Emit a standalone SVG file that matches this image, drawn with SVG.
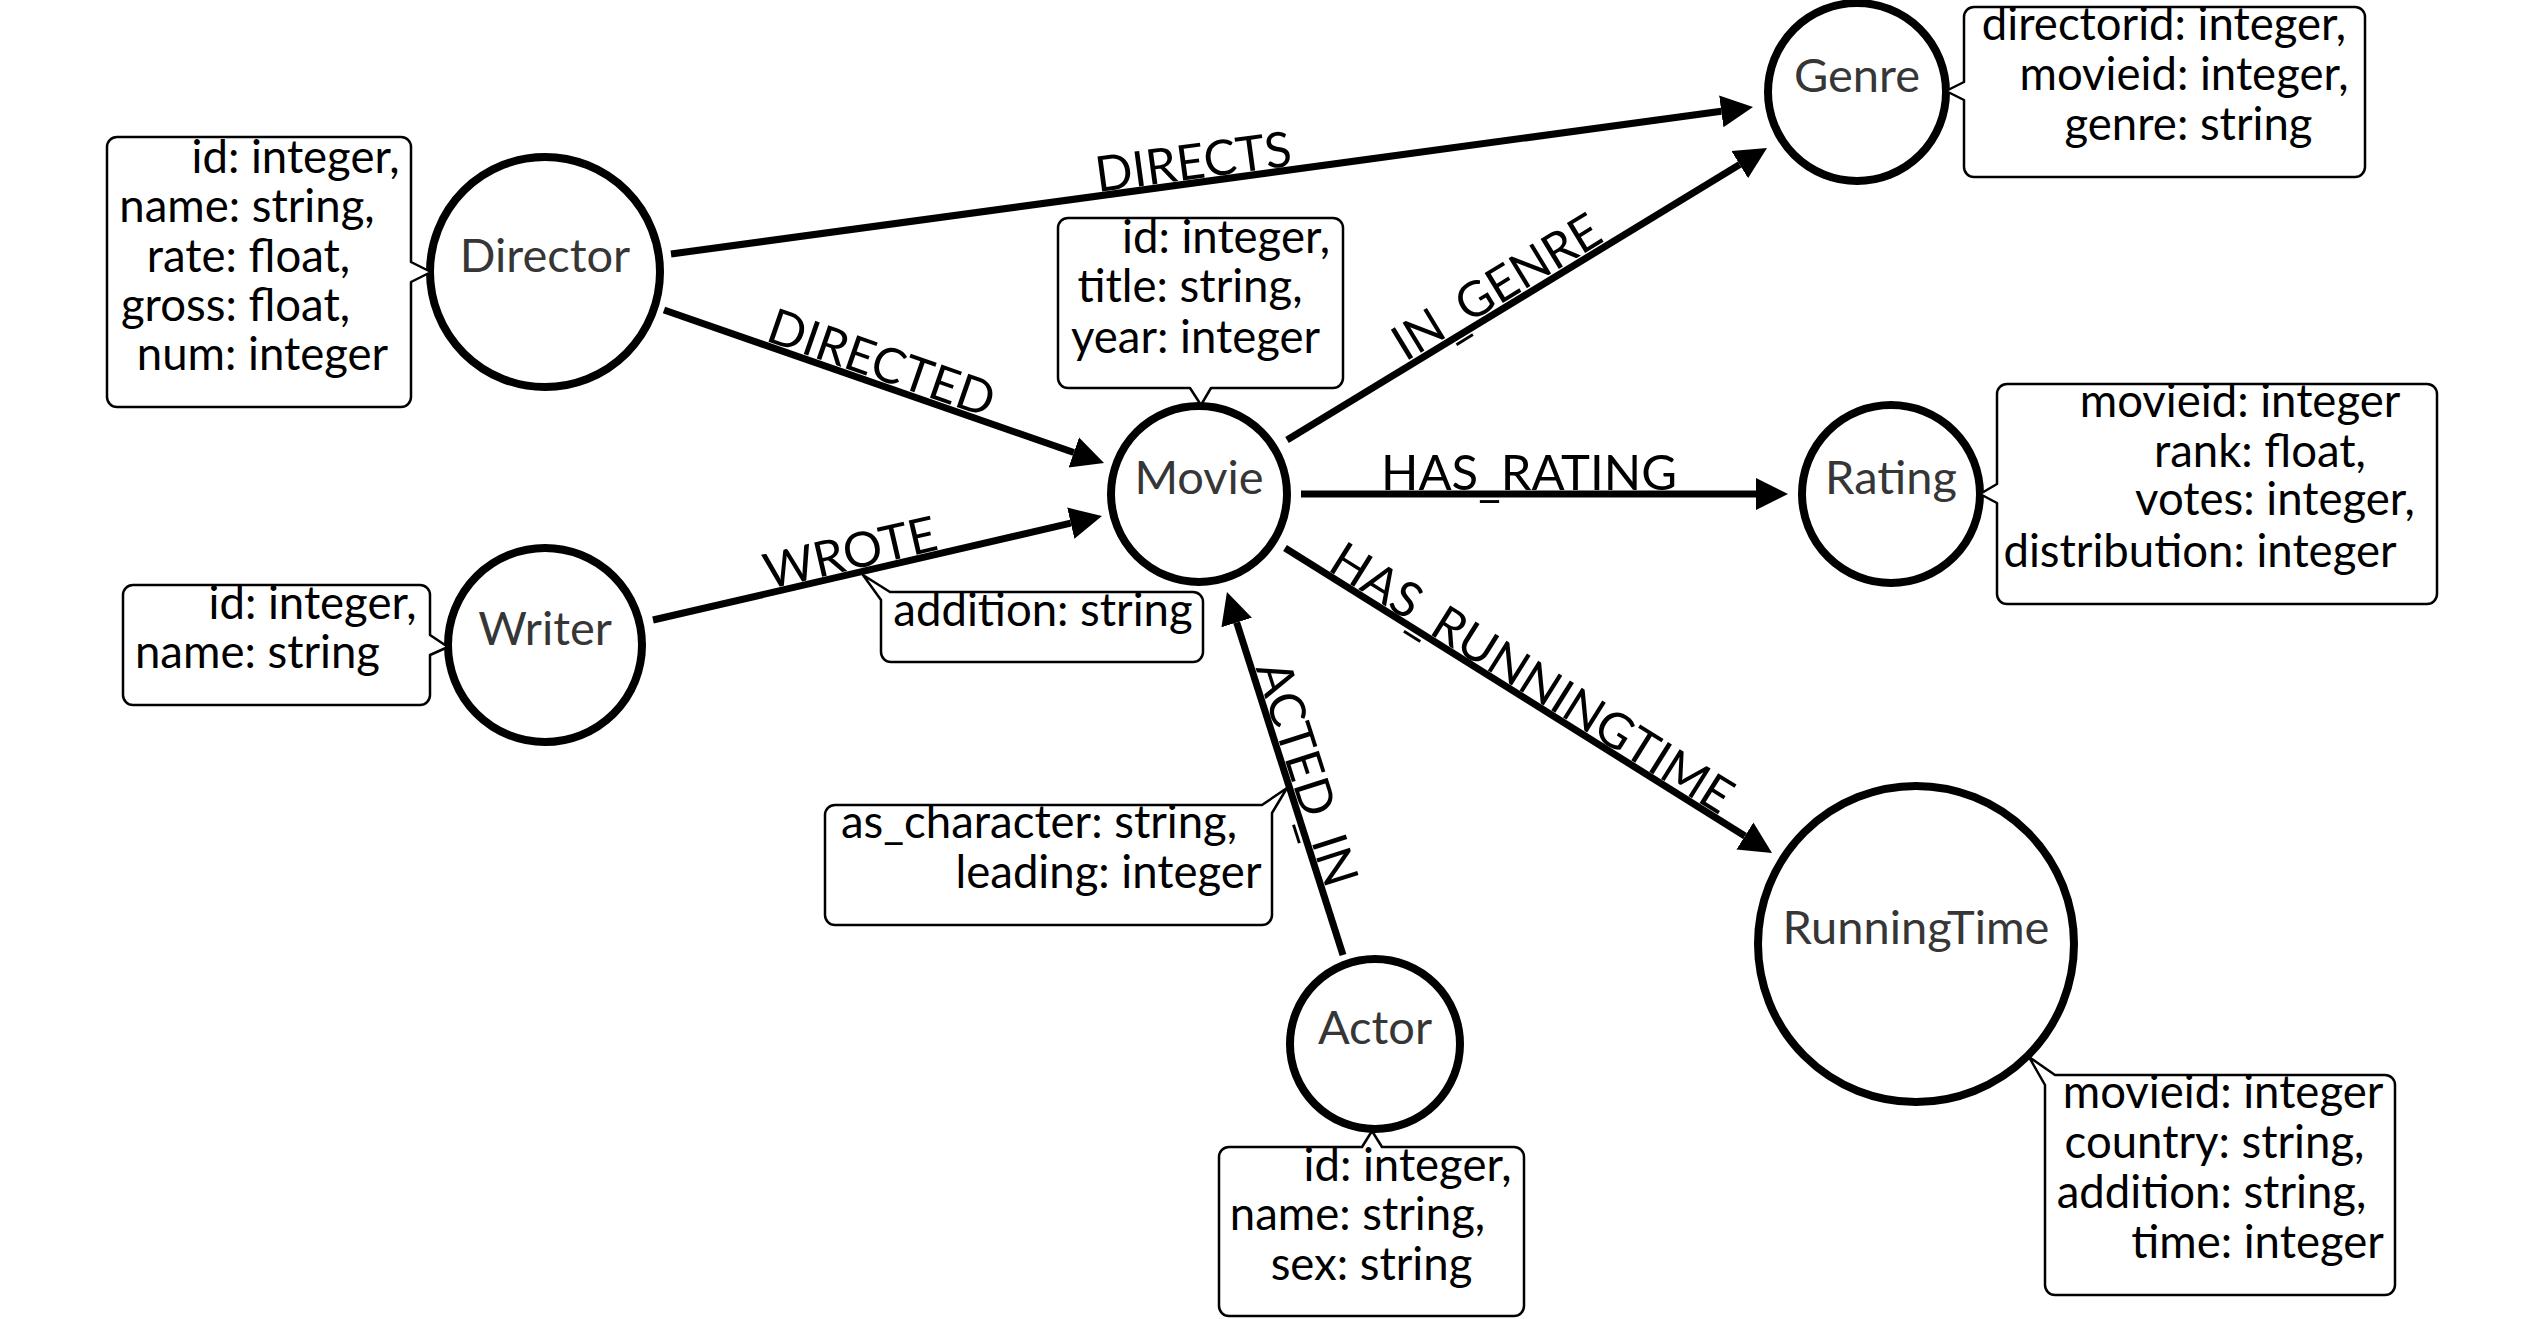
<svg xmlns="http://www.w3.org/2000/svg" width="2535" height="1319" viewBox="0 0 2535 1319">
<style>
.bg{fill:#fff}
.circ{fill:#fff;stroke:#000;stroke-width:8}
.nl{font-family:Lato,"Liberation Sans",sans-serif;font-size:47px;fill:#363636;text-anchor:middle}
.box{fill:#fff;stroke:#000;stroke-width:2.5;stroke-linejoin:round}
.at{font-family:Lato,"Liberation Sans",sans-serif;font-size:45.5px;fill:#000;text-anchor:middle}
.edge{stroke:#000;stroke-width:7;fill:none;marker-end:url(#arrow)}
.el{font-family:Lato,"Liberation Sans",sans-serif;font-size:49px;fill:#000;text-anchor:middle}
</style>
<defs>
<marker id="arrow" markerUnits="userSpaceOnUse" markerWidth="34" markerHeight="34" viewBox="0 -17 34 34" refX="0" refY="0" orient="auto">
<path d="M0,-16 L32,0 L0,16 Z" fill="#000"/>
</marker>
</defs>
<rect class="bg" x="0" y="0" width="2535" height="1319"/>
<g id="connectors">
<line class="edge" x1="671" y1="254" x2="1721.3" y2="111.3"/>
<line class="edge" x1="664" y1="310" x2="1073.8" y2="452.5"/>
<line class="edge" x1="653" y1="620" x2="1070.8" y2="523.2"/>
<line class="edge" x1="1343" y1="955" x2="1236.7" y2="622.5"/>
<line class="edge" x1="1287" y1="440" x2="1739.7" y2="164.6"/>
<line class="edge" x1="1301" y1="494" x2="1756" y2="494"/>
<line class="edge" x1="1285" y1="548" x2="1744.9" y2="836"/>
<text class="el" transform="translate(1195.5,178.7) rotate(-7.74)">DIRECTS</text>
<text class="el" transform="translate(876,379) rotate(19.17)">DIRECTED</text>
<text class="el" transform="translate(854,569.3) rotate(-13.04)">WROTE</text>
<text class="el" transform="translate(1505.4,301.3) rotate(-31.3)">IN<tspan dy="6">_</tspan><tspan dy="-6">GENRE</tspan></text>
<text class="el" x="1529" y="490">HAS<tspan dy="6">_</tspan><tspan dy="-6">RATING</tspan></text>
<text class="el" transform="translate(1523,692.4) rotate(32.05)">HAS<tspan dy="6">_</tspan><tspan dy="-6">RUNNINGTIME</tspan></text>
<text class="el" transform="translate(1291,778.8) rotate(72.27)">ACTED<tspan dy="6">_</tspan><tspan dy="-6">IN</tspan></text>
</g>
<g id="director">
<circle class="circ" cx="545" cy="272" r="115"/>
<text class="nl" x="545" y="272">Director</text>
<path class="box" d="M117,137 H401 A10,10 0 0 1 411,147 V262 L431,272 L411,282 V397 A10,10 0 0 1 401,407 H117 A10,10 0 0 1 107,397 V147 A10,10 0 0 1 117,137 Z"/>
<text class="at" x="295.5" y="173">id: integer,</text>
<text class="at" x="247" y="222">name: string,</text>
<text class="at" x="248.5" y="272">rate: float,</text>
<text class="at" x="235.5" y="321">gross: float,</text>
<text class="at" x="262.5" y="370">num: integer</text>
</g>
<g id="writer">
<circle class="circ" cx="545" cy="645" r="97"/>
<text class="nl" x="545" y="645">Writer</text>
<path class="box" d="M133,585 H420 A10,10 0 0 1 430,595 V635 L448,647 L430,655 V695 A10,10 0 0 1 420,705 H133 A10,10 0 0 1 123,695 V595 A10,10 0 0 1 133,585 Z"/>
<text class="at" x="312.5" y="619">id: integer,</text>
<text class="at" x="257.5" y="668">name: string</text>
</g>
<g id="movie">
<circle class="circ" cx="1199" cy="494" r="88"/>
<text class="nl" x="1199" y="494">Movie</text>
<path class="box" d="M1068,218 H1333 A10,10 0 0 1 1343,228 V378 A10,10 0 0 1 1333,388 H1211 L1201,405 L1190,388 H1068 A10,10 0 0 1 1058,378 V228 A10,10 0 0 1 1068,218 Z"/>
<text class="at" x="1226" y="253">id: integer,</text>
<text class="at" x="1190" y="302">title: string,</text>
<text class="at" x="1195.5" y="353">year: integer</text>
</g>
<g id="wrote-props">
<path class="box" d="M890,592 H1193 A10,10 0 0 1 1203,602 V652 A10,10 0 0 1 1193,662 H891 A10,10 0 0 1 881,652 V600 L863,575 Z"/>
<text class="at" x="1043" y="626">addition: string</text>
</g>
<g id="acted-props">
<path class="box" d="M835,805 H1262 L1287,788 L1272,813 V915 A10,10 0 0 1 1262,925 H835 A10,10 0 0 1 825,915 V815 A10,10 0 0 1 835,805 Z"/>
<text class="at" x="1039" y="838">as_character: string,</text>
<text class="at" x="1108.5" y="888">leading: integer</text>
</g>
<g id="actor">
<circle class="circ" cx="1375" cy="1044" r="85"/>
<text class="nl" x="1375" y="1044">Actor</text>
<path class="box" d="M1229,1147 H1362 L1372,1131 L1382,1147 H1514 A10,10 0 0 1 1524,1157 V1306 A10,10 0 0 1 1514,1316 H1229 A10,10 0 0 1 1219,1306 V1157 A10,10 0 0 1 1229,1147 Z"/>
<text class="at" x="1407.5" y="1181">id: integer,</text>
<text class="at" x="1357.5" y="1230">name: string,</text>
<text class="at" x="1371.5" y="1280">sex: string</text>
</g>
<g id="genre">
<circle class="circ" cx="1857" cy="92" r="89"/>
<text class="nl" x="1857" y="92">Genre</text>
<path class="box" d="M1974,7 H2355 A10,10 0 0 1 2365,17 V167 A10,10 0 0 1 2355,177 H1974 A10,10 0 0 1 1964,167 V100 L1946,91 L1964,82 V17 A10,10 0 0 1 1974,7 Z"/>
<text class="at" x="2164" y="40">directorid: integer,</text>
<text class="at" x="2184" y="90">movieid: integer,</text>
<text class="at" x="2188.5" y="140">genre: string</text>
</g>
<g id="rating">
<circle class="circ" cx="1891" cy="494" r="89"/>
<text class="nl" x="1891" y="494">Rating</text>
<path class="box" d="M2007,384 H2427 A10,10 0 0 1 2437,394 V594 A10,10 0 0 1 2427,604 H2007 A10,10 0 0 1 1997,594 V503 L1980,494 L1997,484 V394 A10,10 0 0 1 2007,384 Z"/>
<text class="at" x="2240" y="417">movieid: integer</text>
<text class="at" x="2260" y="467">rank: float,</text>
<text class="at" x="2275" y="515">votes: integer,</text>
<text class="at" x="2200" y="567">distribution: integer</text>
</g>
<g id="runningtime">
<circle class="circ" cx="1916" cy="944" r="158"/>
<text class="nl" x="1916" y="944">RunningTime</text>
<path class="box" d="M2055,1075 H2385 A10,10 0 0 1 2395,1085 V1285 A10,10 0 0 1 2385,1295 H2055 A10,10 0 0 1 2045,1285 V1085 L2029,1057 Z"/>
<text class="at" x="2223" y="1108">movieid: integer</text>
<text class="at" x="2214.5" y="1158">country: string,</text>
<text class="at" x="2211.5" y="1208">addition: string,</text>
<text class="at" x="2257.5" y="1258">time: integer</text>
</g>
</svg>
